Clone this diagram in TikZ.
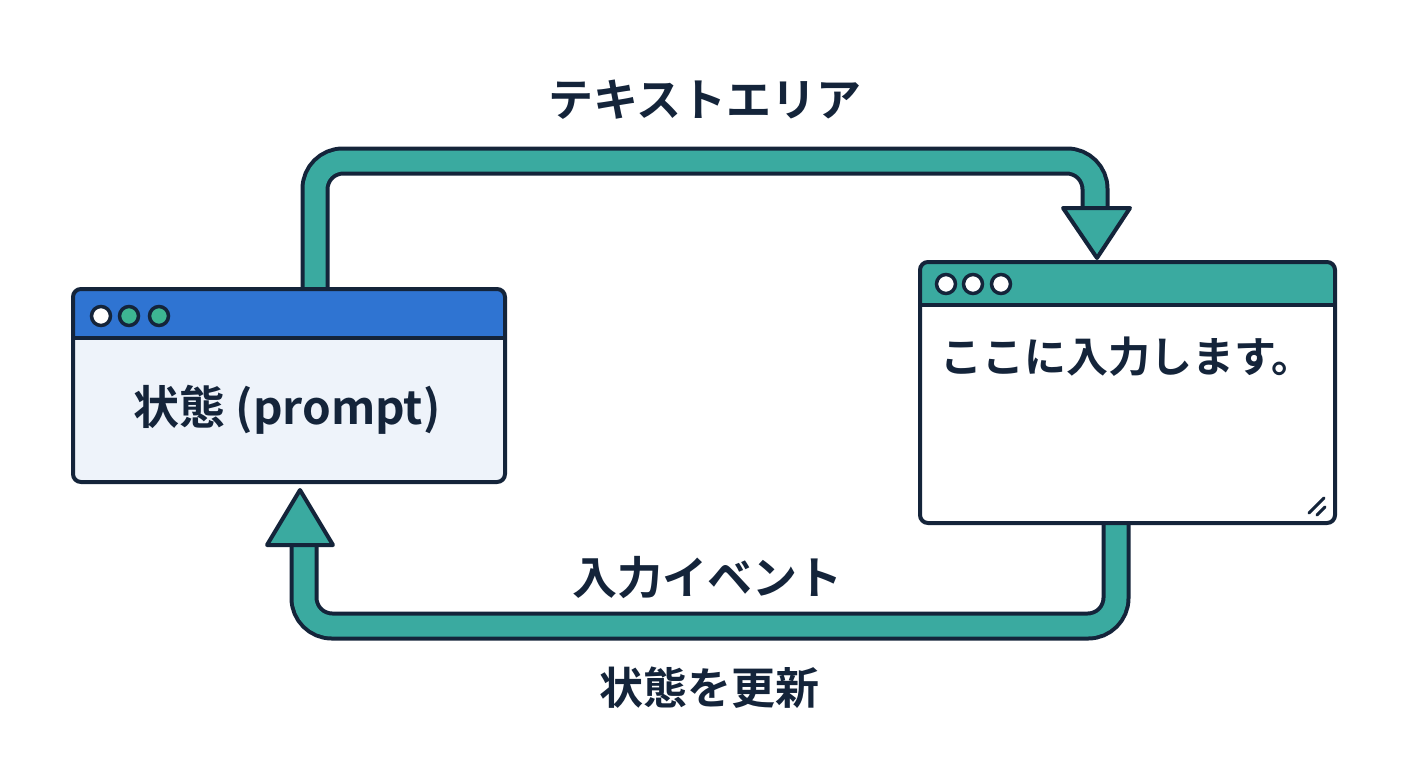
\documentclass[tikz,border=0pt]{standalone}
\usepackage{fontspec}
\setmainfont{Noto Sans CJK JP Bold}
\newfontfamily\jpf{Noto Sans CJK JP Bold}
\definecolor{dk}{HTML}{14243A}
\definecolor{tl}{HTML}{3AAAA0}
\definecolor{bl}{HTML}{2F74D2}
\definecolor{lb}{HTML}{EEF3FA}
\definecolor{dg}{HTML}{3DB592}
\tikzset{
 bandout/.style={draw=dk,line width=29pt,rounded corners=28pt},
 bandin/.style={draw=tl,line width=21pt,rounded corners=28pt},
 head/.style={fill=tl,draw=dk,line width=4pt,line join=round},
 win/.style={draw=dk,line width=4pt,rounded corners=8pt},
 dot/.style={circle,draw=dk,line width=3.5pt,minimum size=19pt,inner sep=0pt},
 lbl/.style={font=\jpf\fontsize{45}{47}\selectfont,text=dk}
}
\begin{document}
\begin{tikzpicture}[x=1pt,y=-1pt]
\useasboundingbox[fill=white] (0,0) rectangle (1408,768);
\coordinate (a1) at (315,295); \coordinate (a2) at (315,161); \coordinate (a3) at (1095,161); \coordinate (a4) at (1095,210);
\coordinate (b1) at (1116,520); \coordinate (b2) at (1116,626); \coordinate (b3) at (304,626); \coordinate (b4) at (304,543);
\draw[bandout] (a1)--(a2)--(a3)--(a4);
\draw[bandout] (b1)--(b2)--(b3)--(b4);
\draw[bandin] (a1)--(a2)--(a3)--(a4);
\draw[bandin] (b1)--(b2)--(b3)--(b4);
\draw[head] (1063,208)--(1130,208)--(1097,258)--cycle;
\draw[head] (267,545)--(333,545)--(300,490)--cycle;
% left window
\fill[lb,rounded corners=8pt] (73,289) rectangle (505,482);
\fill[bl,rounded corners=8pt] (73,289) rectangle (505,338);
\fill[bl] (73,320) rectangle (505,338);
\draw[dk,line width=4pt] (73,338)--(505,338);
\draw[win] (73,289) rectangle (505,482);
\node[dot,fill=white] (l1) at (101,316) {};
\node[dot,fill=dg] (l2) at (129,316) {};
\node[dot,fill=dg] (l3) at (159,316) {};
\node[lbl,font=\jpf\fontsize{46}{48}\selectfont] (lt) at (287,410) {状態 (prompt)};
% right window
\fill[white,rounded corners=8pt] (920,262) rectangle (1335,523);
\fill[tl,rounded corners=8pt] (920,262) rectangle (1335,305);
\fill[tl] (920,290) rectangle (1335,305);
\draw[dk,line width=4pt] (920,305)--(1335,305);
\draw[win] (920,262) rectangle (1335,523);
\node[dot,fill=white] (r1) at (946,284) {};
\node[dot,fill=white] (r2) at (973,284) {};
\node[dot,fill=white] (r3) at (1001,284) {};
\draw[dk,line width=3pt,line cap=round] (1309,513)--(1324,498) (1317,515)--(1325,507);
\node[lbl,font=\jpf\fontsize{42}{44}\selectfont] (rt) at (1127,357) {ここに入力します。};
% labels
\node[lbl] (t1) at (705,100) {テキストエリア};
\node[lbl] (t2) at (707,578) {入力イベント};
\node[lbl,font=\jpf\fontsize{44}{46}\selectfont] (t3) at (709,688) {状態を更新};
\end{tikzpicture}
\end{document}
